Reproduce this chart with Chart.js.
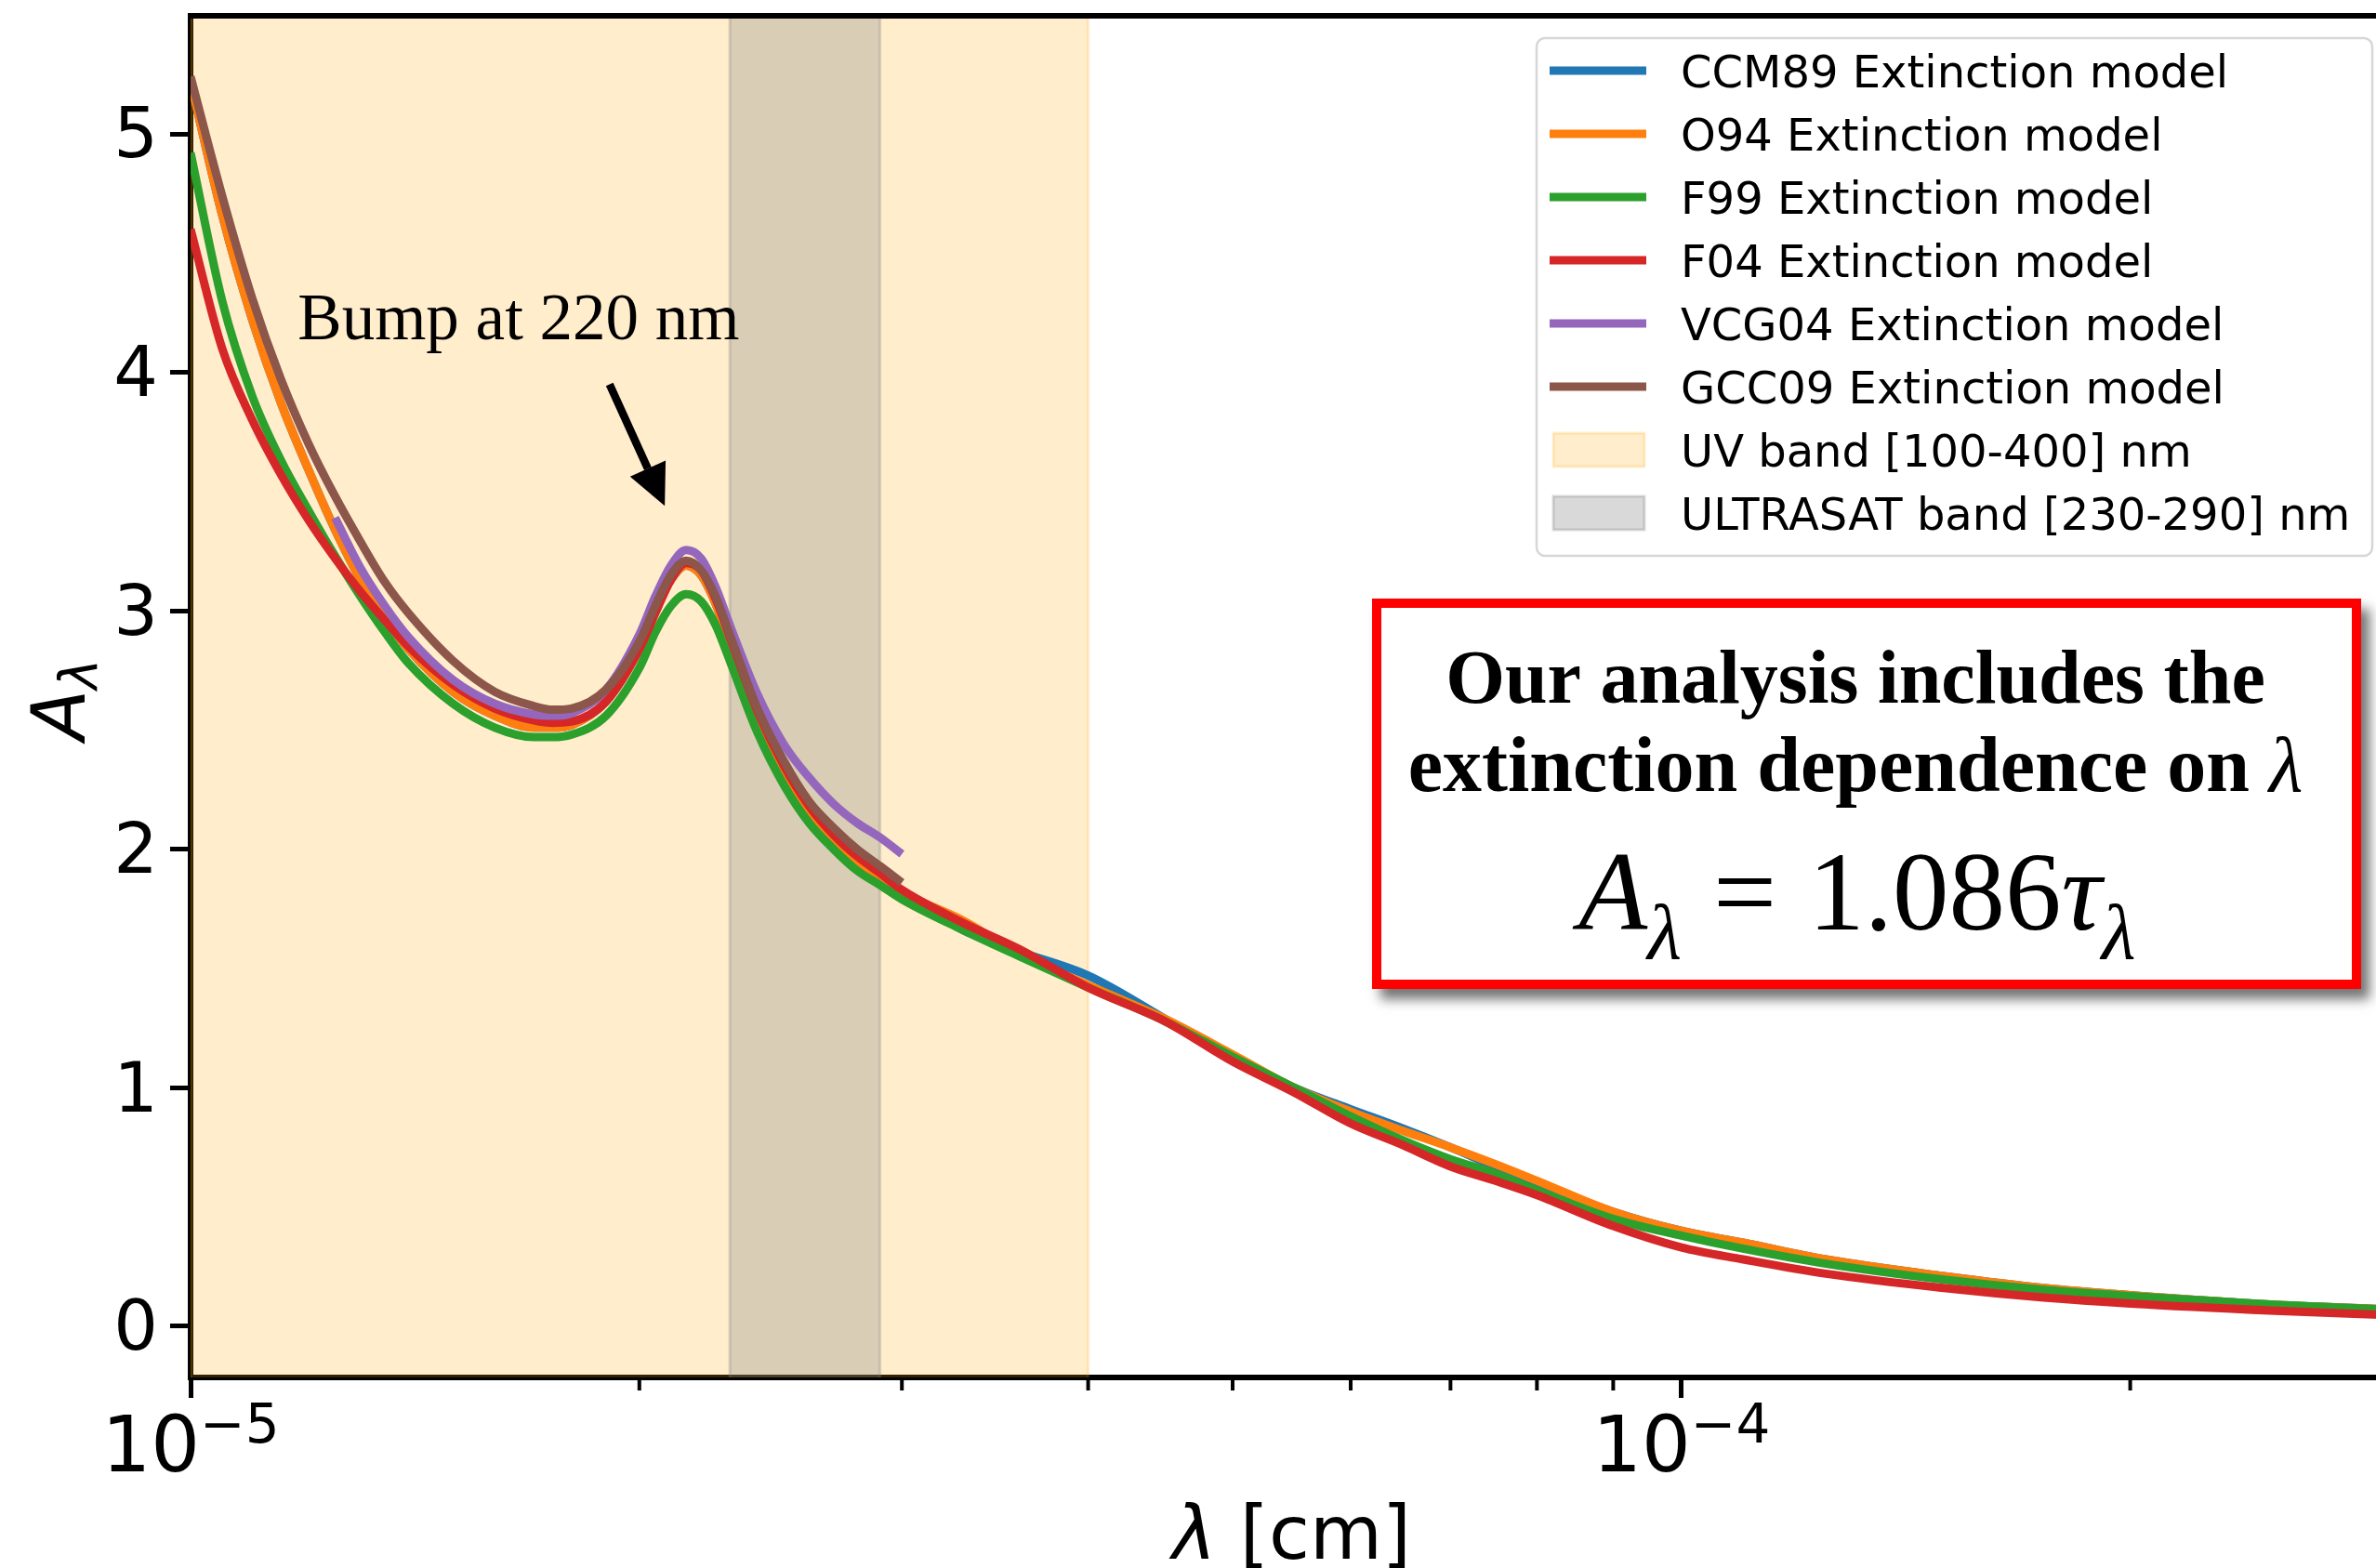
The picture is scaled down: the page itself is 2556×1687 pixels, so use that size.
<!DOCTYPE html>
<html>
<head>
<meta charset="utf-8">
<title>Extinction models</title>
<script src="https://cdn.jsdelivr.net/npm/chart.js"></script>
<style>
  html, body { margin: 0; padding: 0; background: #fff; overflow: hidden; }
  #frame { position: relative; width: 2556px; height: 1687px; overflow: hidden; background: #fff; }
  #chart { position: absolute; left: 0; top: 0; }
</style>
</head>
<body>
<div id="frame"><canvas id="chart" width="2600" height="1720"></canvas></div>
<script>
// wavelength grid [cm]
const wavelengthCm = [
  1.00e-5, 1.05e-5, 1.10e-5, 1.15e-5, 1.20e-5, 1.25e-5, 1.30e-5, 1.35e-5, 1.40e-5,
  1.50e-5, 1.60e-5, 1.70e-5, 1.75e-5, 1.80e-5, 1.90e-5,
  2.00e-5, 2.05e-5, 2.10e-5, 2.15e-5, 2.20e-5, 2.25e-5, 2.30e-5,
  2.40e-5, 2.50e-5, 2.60e-5, 2.70e-5, 2.80e-5, 2.90e-5, 3.00e-5,
  3.30e-5, 3.60e-5, 4.00e-5, 4.50e-5, 5.00e-5, 5.50e-5, 6.00e-5, 6.50e-5, 7.00e-5, 7.50e-5, 8.00e-5, 9.00e-5,
  1.00e-4, 1.10e-4, 1.25e-4, 1.50e-4, 1.75e-4, 2.00e-4, 2.50e-4, 3.00e-4
];

// A_lambda / A_V for each model
const ccm89 = [
  5.22, 4.66, 4.22, 3.87, 3.59, 3.34, 3.13, 2.97, 2.84,
  2.66, 2.56, 2.51, 2.51, 2.52, 2.62,
  2.84, 3.00, 3.13, 3.19, 3.15, 3.03, 2.86,
  2.55, 2.32, 2.15, 2.04, 1.95, 1.88, 1.82,
  1.66, 1.57, 1.47, 1.29, 1.12, 1.00, 0.91, 0.83, 0.75, 0.67, 0.60, 0.48,
  0.40, 0.35, 0.28, 0.21, 0.16, 0.13, 0.09, 0.07
];
const o94 = [
  5.22, 4.66, 4.22, 3.87, 3.59, 3.34, 3.13, 2.97, 2.84,
  2.66, 2.56, 2.51, 2.51, 2.52, 2.62,
  2.84, 3.00, 3.13, 3.19, 3.15, 3.03, 2.86,
  2.55, 2.32, 2.15, 2.04, 1.95, 1.88, 1.82,
  1.70, 1.56, 1.43, 1.29, 1.14, 1.00, 0.90, 0.82, 0.75, 0.68, 0.61, 0.48,
  0.40, 0.35, 0.28, 0.21, 0.16, 0.13, 0.09, 0.07
];
const f99 = [
  4.92, 4.30, 3.90, 3.63, 3.42, 3.23, 3.06, 2.91, 2.78,
  2.61, 2.51, 2.47, 2.47, 2.48, 2.56,
  2.76, 2.91, 3.02, 3.07, 3.04, 2.94, 2.79,
  2.49, 2.27, 2.11, 2.00, 1.91, 1.85, 1.79,
  1.66, 1.55, 1.42, 1.28, 1.13, 1.00, 0.88, 0.78, 0.70, 0.64, 0.57, 0.45,
  0.38, 0.325, 0.262, 0.195, 0.152, 0.126, 0.090, 0.069
];
const f04 = [
  4.60, 4.10, 3.80, 3.57, 3.38, 3.22, 3.08, 2.96, 2.85,
  2.69, 2.59, 2.54, 2.53, 2.535, 2.62,
  2.84, 2.99, 3.13, 3.20, 3.17, 3.05, 2.89,
  2.58, 2.35, 2.18, 2.06, 1.97, 1.90, 1.83,
  1.69, 1.58, 1.42, 1.28, 1.11, 0.98, 0.85, 0.76, 0.67, 0.61, 0.55, 0.42,
  0.33, 0.28, 0.22, 0.16, 0.12, 0.095, 0.065, 0.046
];
const vcg04 = [
  null, null, null, null, null, 3.39, 3.18, 3.02, 2.89,
  2.71, 2.61, 2.565, 2.56, 2.57, 2.67,
  2.90, 3.06, 3.19, 3.255, 3.22, 3.10, 2.94,
  2.65, 2.44, 2.30, 2.19, 2.11, 2.05, 1.98,
  null, null, null, null, null, null, null, null, null, null, null, null,
  null, null, null, null, null, null, null, null
];
const gcc09 = [
  5.24, 4.74, 4.31, 3.97, 3.70, 3.48, 3.29, 3.12, 2.99,
  2.79, 2.66, 2.60, 2.585, 2.59, 2.67,
  2.87, 3.02, 3.15, 3.21, 3.17, 3.06, 2.90,
  2.59, 2.37, 2.20, 2.09, 2.00, 1.93, 1.86,
  null, null, null, null, null, null, null, null, null, null, null, null,
  null, null, null, null, null, null, null, null
];

// shaded bands [cm]
const uvBand = [1.0e-5, 4.0e-5];
const ultrasatBand = [2.3e-5, 2.9e-5];

// axes
const xRange = [1e-5, 3e-4];
const yRange = [-0.215, 5.495];
const xTickValues = [1e-5, 2e-5, 3e-5, 4e-5, 5e-5, 6e-5, 7e-5, 8e-5, 9e-5, 1e-4, 2e-4, 3e-4];
const yTickValues = [0, 1, 2, 3, 4, 5];

// arrow annotation, in data coordinates
const bumpNote = { text: 'Bump at 220 nm', at: [1.18e-5, 4.14], tail: [1.91e-5, 3.95], tip: [2.08e-5, 3.44] };

const sans = '"DejaVu Sans", sans-serif';
const serif = '"Liberation Serif", "DejaVu Serif", serif';

Chart.defaults.font.family = sans;
Chart.defaults.color = '#000';

function isDecade(v) {
  const l = Math.log10(v);
  return Math.abs(l - Math.round(l)) < 1e-6;
}

function line(label, values, color, order) {
  return {
    label, data: values, borderColor: color, backgroundColor: color,
    borderWidth: 9, pointRadius: 0, fill: false, spanGaps: false,
    cubicInterpolationMode: 'monotone', order
  };
}

function band(label, range, color, order) {
  return {
    label, band: true, order,
    data: [
      { x: range[0], y: yRange[0] }, { x: range[0], y: yRange[1] },
      { x: range[1], y: yRange[1] }, { x: range[1], y: yRange[0] }
    ],
    borderColor: color, backgroundColor: color, borderWidth: 3,
    pointRadius: 0, fill: 'start', tension: 0
  };
}

// draws a row of text pieces (different fonts / offsets) centred on cx
function drawRuns(ctx, runs, cx, baseline) {
  let total = 0;
  runs.forEach(r => {
    ctx.font = r.font;
    r.w = ctx.measureText(r.text).width;
    total += r.w + (r.gap || 0);
  });
  let x = cx - total / 2;
  runs.forEach(r => {
    ctx.font = r.font;
    ctx.fillText(r.text, x, baseline + (r.dy || 0));
    x += r.w + (r.gap || 0);
  });
}

function roundedRect(ctx, x, y, w, h, r) {
  ctx.beginPath();
  ctx.moveTo(x + r, y);
  ctx.arcTo(x + w, y, x + w, y + h, r);
  ctx.arcTo(x + w, y + h, x, y + h, r);
  ctx.arcTo(x, y + h, x, y, r);
  ctx.arcTo(x, y, x + w, y, r);
  ctx.closePath();
}

function drawArrow(ctx, x1, y1, x2, y2) {
  const ang = Math.atan2(y2 - y1, x2 - x1);
  const headLen = 44, headHalf = 21;
  const bx = x2 - headLen * Math.cos(ang), by = y2 - headLen * Math.sin(ang);
  ctx.lineWidth = 8.5;
  ctx.beginPath();
  ctx.moveTo(x1, y1);
  ctx.lineTo(bx, by);
  ctx.stroke();
  ctx.beginPath();
  ctx.moveTo(x2, y2);
  ctx.lineTo(bx + headHalf * Math.sin(ang), by - headHalf * Math.cos(ang));
  ctx.lineTo(bx - headHalf * Math.sin(ang), by + headHalf * Math.cos(ang));
  ctx.closePath();
  ctx.fill();
}

function drawLegend(ctx, chart) {
  const area = chart.chartArea;
  const w = 899, h = 557;
  const x0 = area.right - 22 - w, y0 = area.top + 24;
  roundedRect(ctx, x0, y0, w, h, 9);
  ctx.fillStyle = 'rgba(255,255,255,0.8)';
  ctx.fill();
  ctx.lineWidth = 2.5;
  ctx.strokeStyle = 'rgba(204,204,204,0.8)';
  ctx.stroke();

  chart.data.datasets.forEach((ds, i) => {
    const cy = y0 + 35 + i * 68;
    if (ds.band) {
      ctx.fillStyle = ds.backgroundColor;
      ctx.fillRect(x0 + 18, cy - 18, 98, 36);
      ctx.lineWidth = 3;
      ctx.strokeStyle = ds.borderColor;
      ctx.strokeRect(x0 + 18, cy - 18, 98, 36);
    } else {
      ctx.lineWidth = 9;
      ctx.strokeStyle = ds.borderColor;
      ctx.beginPath();
      ctx.moveTo(x0 + 14, cy);
      ctx.lineTo(x0 + 118, cy);
      ctx.stroke();
    }
    ctx.fillStyle = '#000';
    ctx.font = `48px ${sans}`;
    ctx.fillText(ds.label, x0 + 155, cy + 17.5);
  });
}

function drawNoteBox(ctx) {
  const x = 1476, y = 644, w = 1064, h = 420;
  ctx.save();
  ctx.shadowColor = 'rgba(0,0,0,0.55)';
  ctx.shadowBlur = 12;
  ctx.shadowOffsetX = 9;
  ctx.shadowOffsetY = 11;
  ctx.fillStyle = '#fff';
  ctx.fillRect(x, y, w, h);
  ctx.restore();
  ctx.lineWidth = 10;
  ctx.strokeStyle = '#ff0000';
  ctx.strokeRect(x + 5, y + 5, w - 10, h - 10);

  ctx.fillStyle = '#000';
  drawRuns(ctx, [{ text: 'Our analysis includes the', font: `bold 82px ${serif}` }], 1996, 756);
  drawRuns(ctx, [
    { text: 'extinction dependence on ', font: `bold 84px ${serif}` },
    { text: 'λ', font: `italic 84px ${serif}` }
  ], 1996, 851);
  drawRuns(ctx, [
    { text: 'A', font: `italic 121px ${serif}` },
    { text: 'λ', font: `italic 85px ${serif}`, dy: 31, gap: 34 },
    { text: '=', font: `121px ${serif}`, gap: 34 },
    { text: '1.086', font: `121px ${serif}` },
    { text: 'τ', font: `italic 121px ${serif}` },
    { text: 'λ', font: `italic 85px ${serif}`, dy: 31 }
  ], 1998, 1000);
}

const figureDecor = {
  id: 'figureDecor',
  afterDraw(chart) {
    const { ctx, chartArea: area, scales } = chart;
    const xs = scales.x, ys = scales.y;
    ctx.save();
    ctx.textAlign = 'left';
    ctx.textBaseline = 'alphabetic';
    ctx.fillStyle = '#000';
    ctx.strokeStyle = '#000';

    // top spine
    ctx.lineWidth = 6;
    ctx.beginPath();
    ctx.moveTo(area.left - 3, area.top);
    ctx.lineTo(area.right + 3, area.top);
    ctx.stroke();

    // minor ticks on the log axis
    ctx.lineWidth = 4;
    xTickValues.filter(v => !isDecade(v)).forEach(v => {
      const px = xs.getPixelForValue(v);
      ctx.beginPath();
      ctx.moveTo(px, area.bottom);
      ctx.lineTo(px, area.bottom + 14);
      ctx.stroke();
    });

    // 10^n labels
    xTickValues.filter(isDecade).forEach(v => {
      const p = Math.round(Math.log10(v));
      drawRuns(ctx, [
        { text: '10', font: `83px ${sans}` },
        { text: (p < 0 ? '\u2212' : '') + Math.abs(p), font: `58px ${sans}`, dy: -31 }
      ], xs.getPixelForValue(v), area.bottom + 101);
    });

    // axis titles
    drawRuns(ctx, [
      { text: 'λ', font: `italic 80px ${sans}` },
      { text: ' [cm]', font: `80px ${sans}` }
    ], (area.left + area.right) / 2, area.bottom + 195);

    ctx.save();
    ctx.translate(91, (area.top + area.bottom) / 2 + 3);
    ctx.rotate(-Math.PI / 2);
    drawRuns(ctx, [
      { text: 'A', font: `italic 80px ${sans}` },
      { text: 'λ', font: `italic 56px ${sans}`, dy: 13 }
    ], 0, 0);
    ctx.restore();

    // bump annotation
    ctx.font = `71px ${serif}`;
    ctx.fillText(bumpNote.text, xs.getPixelForValue(bumpNote.at[0]), ys.getPixelForValue(bumpNote.at[1]));
    drawArrow(ctx,
      xs.getPixelForValue(bumpNote.tail[0]), ys.getPixelForValue(bumpNote.tail[1]),
      xs.getPixelForValue(bumpNote.tip[0]), ys.getPixelForValue(bumpNote.tip[1]));

    drawLegend(ctx, chart);
    drawNoteBox(ctx);
    ctx.restore();
  }
};

new Chart(document.getElementById('chart'), {
  type: 'line',
  data: {
    labels: wavelengthCm,
    datasets: [
      line('CCM89 Extinction model', ccm89, '#1f77b4', 6),
      line('O94 Extinction model', o94, '#ff7f0e', 5),
      line('F99 Extinction model', f99, '#2ca02c', 4),
      line('F04 Extinction model', f04, '#d62728', 3),
      line('VCG04 Extinction model', vcg04, '#9467bd', 2),
      line('GCC09 Extinction model', gcc09, '#8c564b', 1),
      band('UV band [100-400] nm', uvBand, 'rgba(255,165,0,0.2)', 9),
      band('ULTRASAT band [230-290] nm', ultrasatBand, 'rgba(128,128,128,0.3)', 8)
    ]
  },
  options: {
    responsive: false,
    animation: false,
    devicePixelRatio: 1,
    layout: { padding: { left: 0, top: 17, right: 26, bottom: 0 } },
    plugins: { legend: { display: false }, tooltip: { enabled: false } },
    scales: {
      x: {
        type: 'logarithmic',
        min: xRange[0], max: xRange[1],
        z: 1,
        afterBuildTicks: s => { s.ticks = xTickValues.map(v => ({ value: v })); },
        afterFit: s => { s.height = 238; },
        ticks: { display: false },
        grid: {
          display: true, drawOnChartArea: false, drawTicks: true,
          tickLength: 22, tickWidth: 5,
          tickColor: c => (c.tick && isDecade(c.tick.value)) ? '#000' : 'rgba(0,0,0,0)'
        },
        border: { display: true, color: '#000', width: 6 }
      },
      y: {
        type: 'linear',
        min: yRange[0], max: yRange[1],
        z: 1,
        afterBuildTicks: s => { s.ticks = yTickValues.map(v => ({ value: v })); },
        afterFit: s => { s.width = 205; s.paddingTop = 0; s.paddingBottom = 0; },
        ticks: {
          color: '#000', font: { size: 75, family: sans },
          padding: 13, labelOffset: 6,
          callback: v => String(v)
        },
        grid: { drawOnChartArea: false, drawTicks: true, tickLength: 22, tickWidth: 5, tickColor: '#000' },
        border: { display: true, color: '#000', width: 6 }
      }
    }
  },
  plugins: [figureDecor]
});
</script>
</body>
</html>
